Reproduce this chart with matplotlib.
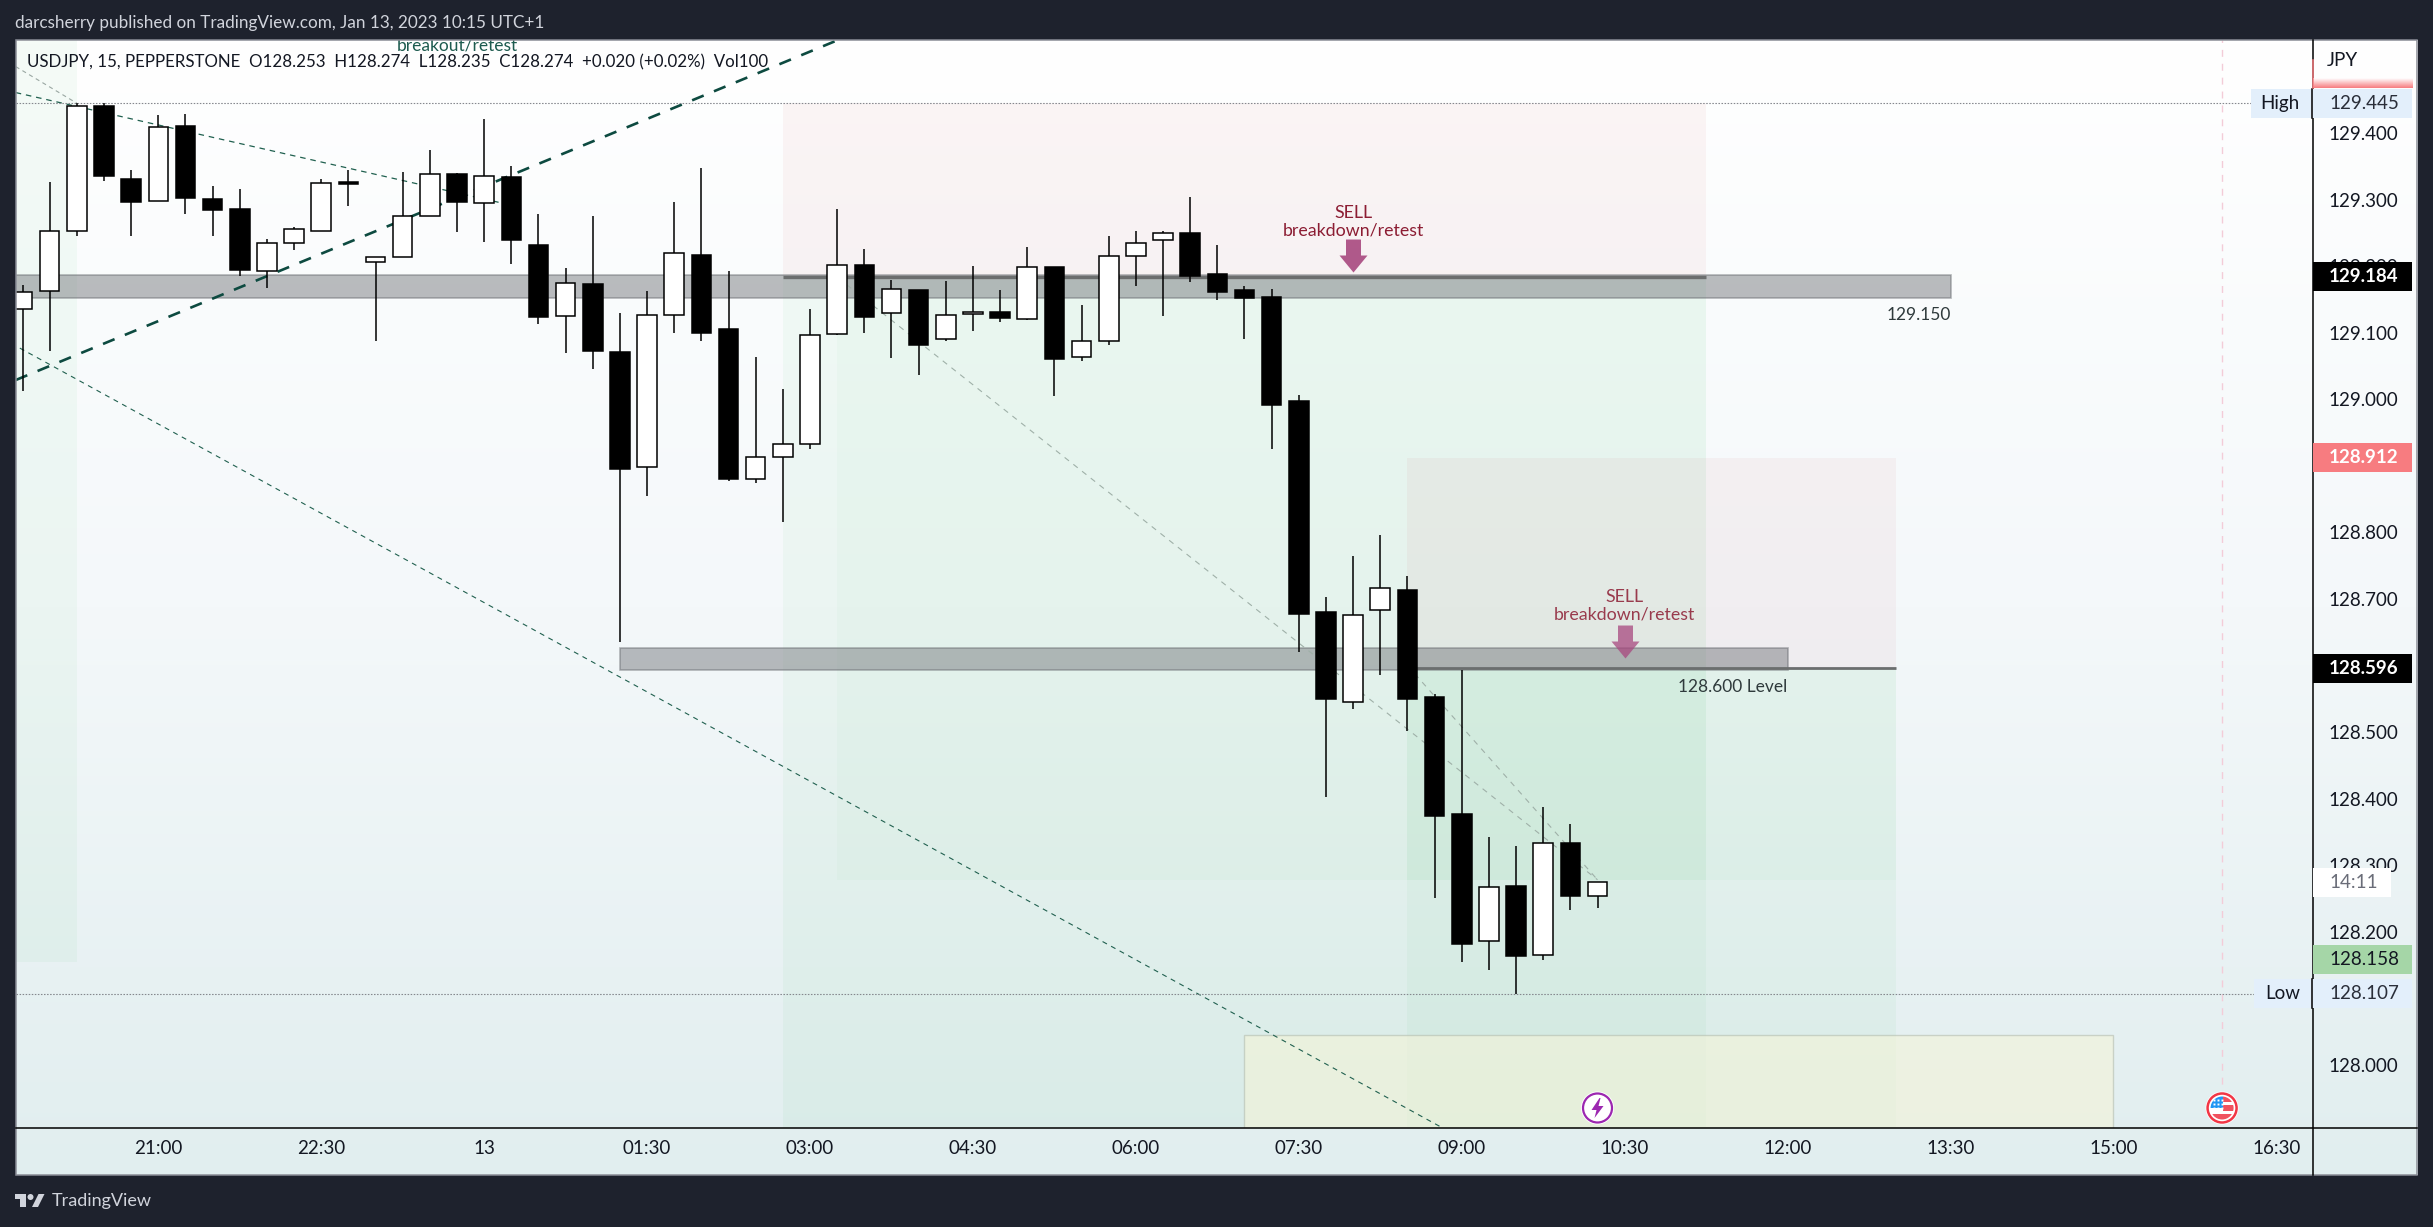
import numpy as np
import matplotlib
matplotlib.use("Agg")
import matplotlib.pyplot as plt
from matplotlib.patches import Rectangle, Circle, Polygon
from matplotlib.path import Path
from matplotlib.transforms import blended_transform_factory

plt.rcParams['font.family'] = ['Lato', 'DejaVu Sans']
plt.rcParams['lines.scale_dashes'] = False

W, H = 2433, 1227

# candles, 15 min, bar 0 is the 21:00 candle
first_bar = -5
opens = [129.136, 129.163, 129.253, 129.441, 129.331, 129.298, 129.411, 129.301, 129.286, 129.193,
         129.235, 129.253, 129.327, 129.206, 129.214, 129.275, 129.339, 129.295, 129.334, 129.232,
         129.125, 129.174, 129.071, 128.898, 129.126, 129.217, 129.105, 128.880, 128.914, 128.933,
         129.098, 129.202, 129.130, 129.165, 129.090, 129.128, 129.132, 129.120, 129.199, 129.063,
         129.087, 129.215, 129.239, 129.250, 129.189, 129.165, 129.154, 128.998, 128.681, 128.545,
         128.683, 128.714, 128.553, 128.377, 128.186, 128.269, 128.165, 128.333, 128.253]
highs = [129.172, 129.327, 129.445, 129.445, 129.345, 129.428, 129.429, 129.321, 129.316, 129.241,
         129.259, 129.331, 129.344, 129.214, 129.342, 129.375, 129.340, 129.422, 129.351, 129.279,
         129.198, 129.276, 129.129, 129.163, 129.296, 129.348, 129.193, 129.064, 129.016, 129.136,
         129.286, 129.226, 129.180, 129.165, 129.178, 129.201, 129.165, 129.229, 129.199, 129.142,
         129.246, 129.253, 129.253, 129.304, 129.232, 129.171, 129.166, 129.007, 128.703, 128.765,
         128.796, 128.735, 128.557, 128.593, 128.342, 128.329, 128.388, 128.362, 128.274]
lows = [129.012, 129.073, 129.245, 129.328, 129.245, 129.298, 129.278, 129.245, 129.185, 129.167,
        129.224, 129.253, 129.290, 129.088, 129.214, 129.275, 129.252, 129.237, 129.203, 129.113,
        129.070, 129.046, 128.635, 128.855, 129.100, 129.088, 128.878, 128.874, 128.816, 128.925,
        129.097, 129.100, 129.062, 129.037, 129.088, 129.103, 129.116, 129.119, 129.005, 129.058,
        129.082, 129.171, 129.125, 129.176, 129.149, 129.091, 128.926, 128.621, 128.402, 128.535,
        128.586, 128.502, 128.250, 128.155, 128.143, 128.107, 128.157, 128.233, 128.236]
closes = [129.161, 129.253, 129.441, 129.335, 129.297, 129.409, 129.302, 129.285, 129.194, 129.235,
          129.256, 129.325, 129.323, 129.214, 129.275, 129.338, 129.297, 129.335, 129.239, 129.123,
          129.175, 129.072, 128.896, 129.127, 129.220, 129.099, 128.881, 128.913, 128.933, 129.097,
          129.202, 129.123, 129.166, 129.082, 129.127, 129.131, 129.122, 129.199, 129.060, 129.087,
          129.215, 129.235, 129.250, 129.186, 129.162, 129.153, 128.991, 128.678, 128.550, 128.676,
          128.716, 128.550, 128.374, 128.181, 128.267, 128.164, 128.334, 128.253, 128.274]

time_bars = [0, 6, 12, 18, 24, 30, 36, 42, 48, 54, 60, 66, 72, 78]
time_labels = ["21:00", "22:30", "13", "01:30", "03:00", "04:30", "06:00", "07:30",
               "09:00", "10:30", "12:00", "13:30", "15:00", "16:30"]
# 128.1, 128.6 and 128.9 sit fully behind the price labels
price_ticks = [128.0, 128.2, 128.3, 128.4, 128.5, 128.7,
               128.8, 129.0, 129.1, 129.2, 129.3, 129.4]

high_price, low_price = 129.445, 128.107
level_top, level_bottom = 129.187, 129.152
level2_top, level2_bottom = 128.626, 128.594

bg = "#1e222d"
fig = plt.figure(figsize=(W / 100, H / 100), dpi=100, facecolor=bg)


def rect(x0, y0, x1, y1):
    # pixel box (top-left origin) to figure fraction
    return [x0 / W, 1 - y1 / H, (x1 - x0) / W, (y1 - y0) / H]


# gradient behind the whole panel
back = fig.add_axes(rect(15.5, 40, 2417, 1175), zorder=0)
top_c = np.array([255, 255, 255]) / 255
mid_c = np.array([244, 248, 250]) / 255
bot_c = np.array([225, 238, 239]) / 255
t = np.linspace(0, 1, 256)[:, None]
grad = np.where(t < 0.5, top_c + (mid_c - top_c) * t * 2, mid_c + (bot_c - mid_c) * (t - 0.5) * 2)
back.imshow(grad[:, None, :], aspect="auto", extent=[0, 1, 0, 1])
back.axis("off")

# main chart axes
ax = fig.add_axes(rect(15.5, 40, 2312, 1128), zorder=1)
ax.patch.set_alpha(0)
bar_px = 27.155
xmin = (15.5 - 158.3) / bar_px
xmax = (2312 - 158.3) / bar_px
ymin, ymax = 127.905, 129.540
ax.set_xlim(xmin, xmax)
ax.set_ylim(ymin, ymax)
for s in ax.spines.values():
    s.set_visible(False)
ax.yaxis.tick_right()
ax.set_yticks(price_ticks)
ax.set_yticklabels(["%.3f" % p for p in price_ticks])
ax.set_xticks(time_bars)
ax.set_xticklabels(time_labels)
ax.tick_params(axis="y", length=0, pad=12, labelsize=13.5, labelcolor="#131722")
ax.tick_params(axis="x", length=0, pad=9, labelsize=13.5, labelcolor="#131722")


def box(x0, x1, p0, p1, color, alpha, z=1):
    ax.add_patch(Rectangle((x0, p0), x1 - x0, p1 - p0, facecolor=color, alpha=alpha,
                           edgecolor="none", zorder=z))


green = "#45c265"
pink = "#c83a4a"
# left green zone
box(xmin, -3, 128.154, ymax, green, 0.05)
# first short position
box(23, 57, 129.185, 129.445, pink, 0.05)
box(23, 57, ymin, 129.185, green, 0.05)
box(25, 57, 128.277, 129.185, green, 0.03)
# second short position
box(46, 64, 128.596, 128.912, pink, 0.05)
box(46, 64, ymin, 128.596, green, 0.05)
box(46, 64, 128.277, 128.596, green, 0.035)
# target zone
ax.add_patch(Rectangle((40, ymin), 32, 128.045 - ymin, facecolor="#f4f4d8", alpha=0.6,
                       edgecolor="#b4bdb0", lw=1, zorder=1.2))

# levels
for x0, x1, p0, p1 in [(xmin - 1, 66, level_bottom, level_top), (17, 60, level2_bottom, level2_top)]:
    ax.add_patch(Rectangle((x0, p0), x1 - x0, p1 - p0, facecolor="#787b80", alpha=0.5,
                           edgecolor="#6a6d72", lw=1.2, zorder=2))
ax.plot([23, 57], [129.184, 129.184], color="#6b6e6e", lw=2.4, zorder=2.2, solid_capstyle="butt")
ax.plot([46, 64], [128.596, 128.596], color="#6b6e6e", lw=2.0, zorder=2.2, solid_capstyle="butt")

# trend lines
dk = "#0d4a40"
ax.plot([-5.25, 25.03], [129.029, 129.540], color=dk, lw=1.9, ls=(0, (9, 8)), zorder=3)
ax.plot([-5.25, 12.65], [129.461, 129.295], color="#20604f", lw=0.9, ls=(0, (4, 3.5)), zorder=3)
ax.plot([-5.25, -3], [129.5, 129.445], color="#9aa7a2", lw=0.8, ls=(0, (3, 2.6)), zorder=3)
ax.plot([-5.1, 47.3], [129.077, ymin], color="#20604f", lw=0.8, ls=(0, (3.6, 3.4)), zorder=3)
ax.plot([25.36, 53], [129.172, 128.278], color="#9fb0a8", lw=0.8, ls=(0, (4, 4)), zorder=3)
ax.plot([46, 53], [128.6, 128.278], color="#9fb0a8", lw=0.8, ls=(0, (4, 4)), zorder=3)

# high / low dotted
for p in [high_price, low_price]:
    ax.plot([xmin, xmax], [p, p], color="#85888e", lw=0.8, ls=(0, (1.1, 1.1)), zorder=3)
# event line
ax.plot([76, 76], [127.95, ymax], color="#f3ccd8", lw=1, ls=(0, (5, 5)), zorder=1.5)

# candles
for i in range(len(opens)):
    x = first_bar + i
    o, h, l, c = opens[i], highs[i], lows[i], closes[i]
    ax.plot([x, x], [l, h], color="black", lw=1.1, zorder=5, solid_capstyle="butt")
    face = "white" if c >= o else "black"
    ax.add_patch(Rectangle((x - 0.36, min(o, c)), 0.72, abs(c - o), facecolor=face,
                           edgecolor="black", lw=1.1, zorder=6))

# sell arrows, marker anchored at the tip
arrow = Path([(0, 0), (-14, 17), (-7.5, 17), (-7.5, 33), (7.5, 33), (7.5, 17), (14, 17), (0, 0)], closed=True)
ax.plot([44], [129.192], marker=arrow, ms=47.5, color="#a8487f", mew=0, alpha=0.9, zorder=4)
ax.plot([54], [128.612], marker=arrow, ms=47.5, color="#a8487f", mew=0, alpha=0.75, zorder=4)

txt = "#8c1d33"
ax.text(44, 129.2675, "SELL\nbreakdown/retest", ha="center", va="center", color=txt, fontsize=12.8,
        linespacing=1.12, zorder=7)
ax.text(54, 128.6895, "SELL\nbreakdown/retest", ha="center", va="center", color=txt, fontsize=12.8,
        linespacing=1.12, alpha=0.85, zorder=7)
ax.text(11, 129.531, "breakout/retest", ha="center", va="center", color="#1d5b4f", fontsize=12.5,
        clip_on=True, zorder=7)
ax.text(66, 129.127, "129.150", ha="right", va="center", color="#2f3a3c", fontsize=12.5, zorder=7)
ax.text(60, 128.567, "128.600 Level", ha="right", va="center", color="#2f3a3c", fontsize=12.5, zorder=7)

# overlay in pixels for the chart furniture
ov = fig.add_axes([0, 0, 1, 1], zorder=2)
ov.patch.set_alpha(0)
ov.axis("off")
ov.set_xlim(0, W)
ov.set_ylim(H, 0)
mix = blended_transform_factory(ov.transData, ax.transData)

# outer frame and axis lines
ov.add_patch(Rectangle((15.5, 40), 2401.5, 1135, fill=False, edgecolor="#8a8d96", lw=1.1))
ov.plot([2312.5, 2312.5], [40, 1175], color="black", lw=1.1)
ov.plot([15.5, 2417], [1128, 1128], color="black", lw=1.1)

# price labels
label_h = 0.0436
labels = [(129.184, "#000000", "#ffffff"), (128.912, "#f77c80", "#ffffff"),
          (128.596, "#000000", "#ffffff"), (128.158, "#a5d6a7", "#131722")]
for p, fc, tc in labels:
    ov.add_patch(Rectangle((2312.5, p - label_h / 2), 99.5, label_h, facecolor=fc, edgecolor="none",
                           transform=mix, zorder=4))
    ov.text(2329, p, "%.3f" % p, color=tc, fontsize=13.5, va="center", ha="left", transform=mix, zorder=5,
            fontweight="bold" if tc == "#ffffff" else "normal")
for p, name, x0 in [(high_price, "High", 2251), (low_price, "Low", 2254)]:
    ov.add_patch(Rectangle((x0, p - label_h / 2), 2412 - x0, label_h, facecolor="#e3effb", edgecolor="none",
                           transform=mix, zorder=4))
    ov.plot([2312, 2312], [p - label_h / 2, p + label_h / 2], color="black", lw=1.1, transform=mix, zorder=5)
    ov.text(2329, p, "%.3f" % p, color="#2a2e39", fontsize=13.5, va="center", ha="left", transform=mix, zorder=5)
    ov.text(2300, p, name, color="#131722", fontsize=13.5, va="center", ha="right", transform=mix, zorder=5)

# countdown box
ov.add_patch(Rectangle((2312.5, 868), 78, 29, facecolor="white", edgecolor="none", zorder=4))
ov.text(2329, 882.5, "14:11", color="#6a6d78", fontsize=13.5, va="center", ha="left", zorder=5)

# clipped pink label at the top of the scale
sliver = np.ones((32, 1, 3))
sliver[:, 0, 1] = np.linspace(1, 0.49, 32)
sliver[:, 0, 2] = np.linspace(1, 0.50, 32)
sliver[:, 0, 0] = np.linspace(1, 0.97, 32)
ov.imshow(sliver, extent=[2312.5, 2412, 88, 78], aspect="auto", zorder=4)
ov.set_xlim(0, W)
ov.set_ylim(H, 0)
ov.plot([2313, 2313], [60, 88], color="#f77c80", lw=1.1, zorder=5)
ov.text(2327, 61, "JPY", color="#131722", fontsize=13.5, va="center", ha="left", zorder=5)

# header, legend, footer
ov.text(15, 23, "darcsherry published on TradingView.com, Jan 13, 2023 10:15 UTC+1", color="#d1d4dc",
        fontsize=12.3, va="center", ha="left")
ov.text(27, 62, "USDJPY, 15, PEPPERSTONE  O128.253  H128.274  L128.235  C128.274  +0.020 (+0.02%)  Vol100",
        color="#131722", fontsize=12.2, va="center", ha="left")
ov.text(52, 1201, "TradingView", color="#d1d4dc", fontsize=13, va="center", ha="left")
ov.add_patch(Polygon([(15, 1194), (26, 1194), (26, 1207), (20, 1207), (20, 1199), (15, 1199)], color="#d1d4dc", lw=0))
ov.add_patch(Circle((30.5, 1197), 3, color="#d1d4dc", lw=0))
ov.add_patch(Polygon([(38.5, 1194), (44.5, 1194), (38, 1207), (32, 1207)], color="#d1d4dc", lw=0))

# event icons
ex, ey = 158.3 + bar_px * 53, 1108
ov.add_patch(Circle((ex, ey), 16.5, facecolor="white", edgecolor="none", zorder=6))
ov.add_patch(Circle((ex, ey), 14.5, facecolor="white", edgecolor="#9c27b0", lw=1.6, zorder=7))
ov.add_patch(Polygon([(ex + 2, ey - 10), (ex - 6, ey + 2), (ex - 1, ey + 2), (ex - 3, ey + 10),
                      (ex + 6, ey - 2), (ex + 1, ey - 2), (ex + 3, ey - 10)], color="#9c27b0", lw=0, zorder=8))

fx, fy = 158.3 + bar_px * 76, 1108
ov.add_patch(Circle((fx, fy), 16.5, facecolor="white", edgecolor="none", zorder=6))
ov.add_patch(Circle((fx, fy), 14.5, facecolor="white", edgecolor="#f23645", lw=1.8, zorder=7))
clip = Circle((fx, fy), 11.5, transform=ov.transData)
flag_parts = [(fx - 12, fy - 12, 13, 12, "#2196f3"), (fx + 1, fy - 12, 12, 6, "#f0525f"),
              (fx + 1, fy - 3, 12, 6, "#f0525f"), (fx - 12, fy + 6, 24, 6, "#f0525f")]
for x0, y0, w, h, c in flag_parts:
    pt = ov.add_patch(Rectangle((x0, y0), w, h, facecolor=c, edgecolor="none", zorder=8))
    pt.set_clip_path(clip)
for dy in [-8, -4, 0]:
    ov.plot([fx - 8, fx - 4, fx], [fy + dy, fy + dy, fy + dy], ls="none", marker="s", ms=1.4,
            color="white", mew=0, zorder=9)

fig.savefig("out.png", dpi=100, facecolor=bg)
